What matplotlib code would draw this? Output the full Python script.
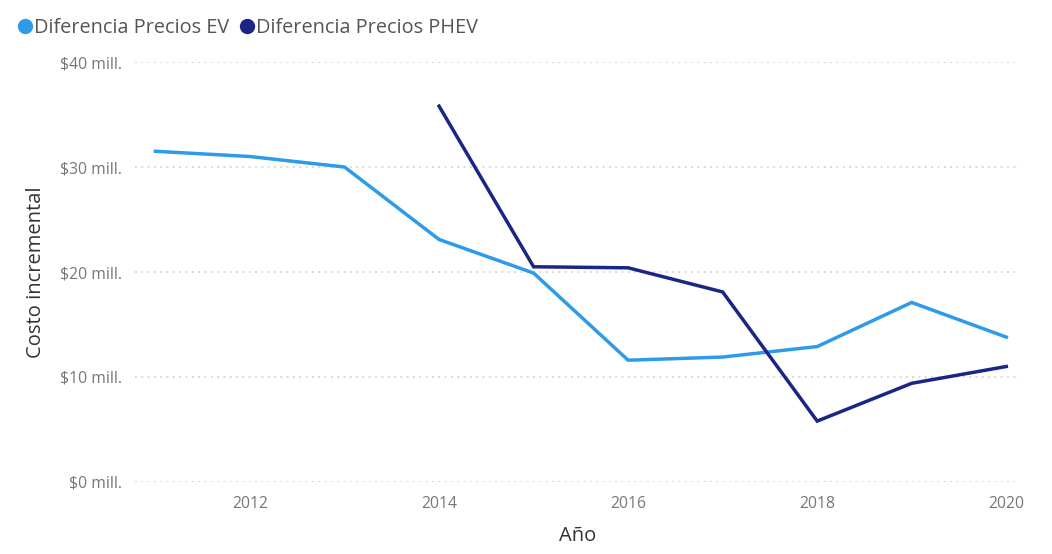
import matplotlib
matplotlib.use("Agg")
import matplotlib.pyplot as plt
from matplotlib.lines import Line2D

years_ev = [2011, 2012, 2013, 2014, 2015, 2016, 2017, 2018, 2019, 2020]
ev_values = [31.5, 31.0, 30.0, 23.1, 19.9, 11.6, 11.9, 12.9, 17.1, 13.8]
years_phev = [2014, 2015, 2016, 2017, 2018, 2019, 2020]
phev_values = [35.8, 20.5, 20.4, 18.1, 5.8, 9.4, 11.0]
y_ticks = [0, 10, 20, 30, 40]
x_ticks = [2012, 2014, 2016, 2018, 2020]
series_names = ["Diferencia Precios EV", "Diferencia Precios PHEV"]
colors = ["#2E9BEA", "#1B2585"]

plt.rcParams['font.family'] = ['Open Sans', 'DejaVu Sans']

fig = plt.figure(figsize=(10.52, 5.54), dpi=100)
ax = fig.add_axes([0.128, 0.130, 0.842, 0.758])

ax.plot(years_ev, ev_values, color=colors[0], lw=2.5, solid_joinstyle='miter')
ax.plot(years_phev, phev_values, color=colors[1], lw=2.5, solid_joinstyle='miter')

ax.set_xlim(2010.78, 2020.15)
ax.set_ylim(0, 40)
ax.set_yticks(y_ticks)
ax.set_yticklabels([f"${v} mill." for v in y_ticks])
ax.set_xticks(x_ticks)
ax.set_xticklabels([str(x) for x in x_ticks])

ax.grid(axis='y', color='#d4d4d4', linestyle=(0, (1, 2.5)), linewidth=1.3)
ax.set_axisbelow(True)
for s in ax.spines.values():
    s.set_visible(False)
ax.tick_params(axis='both', length=0, colors='#777777', labelsize=11.3)
ax.tick_params(axis='y', pad=9)
ax.tick_params(axis='x', pad=10)

ax.set_ylabel("Costo incremental", fontsize=14.5, color='#333333', labelpad=10)
ax.set_xlabel("Año", fontsize=14.5, color='#333333', labelpad=10)

handles = [Line2D([], [], marker='o', linestyle='none', markersize=10,
                  markerfacecolor=c, markeredgecolor=c) for c in colors]
fig.legend(handles, series_names, loc='upper left', bbox_to_anchor=(-0.002, 0.99),
           ncol=2, frameon=False, fontsize=14.3, handletextpad=-0.25,
           columnspacing=0.2, labelcolor='#555555', borderaxespad=0.25,
           handlelength=1.4)

fig.savefig("out.png", dpi=100, facecolor='white')
